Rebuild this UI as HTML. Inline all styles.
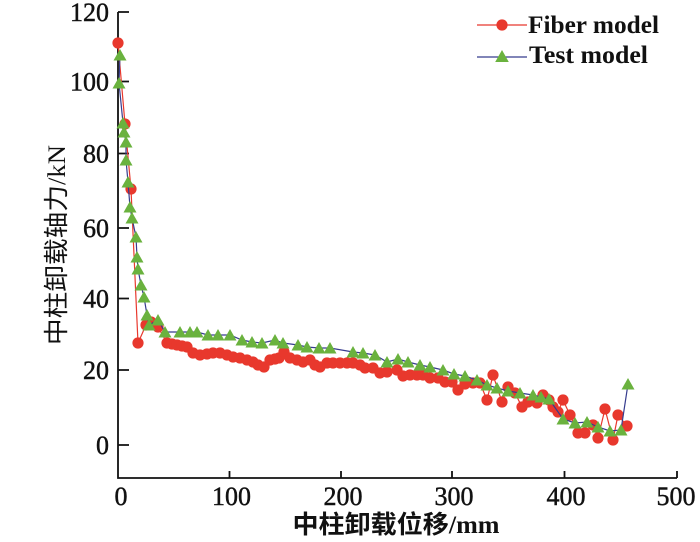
<!DOCTYPE html>
<html><head><meta charset="utf-8"><style>
html,body{margin:0;padding:0;background:#fff;}
svg{display:block;}
</style></head><body>
<svg width="700" height="542" viewBox="0 0 700 542" xmlns="http://www.w3.org/2000/svg">
<rect width="700" height="542" fill="#fff"/>
<!-- axes -->
<g stroke="#111" stroke-width="1.8" fill="none">
<path d="M118,12 V478 H677"/>
<path d="M118,12 h11 M118,81.5 h11 M118,153.5 h11 M118,228 h11 M118,298.5 h11 M118,370 h11 M118,445 h11"/>
<path d="M229.5,478 v-7 M341,478 v-7 M452,478 v-7 M564.5,478 v-7 M677,478 v-7"/>
</g>
<g font-family="Liberation Serif, serif" font-size="26" fill="#111" stroke="#111" stroke-width="0.45" text-anchor="end">
<text x="109" y="21">120</text>
<text x="109" y="90.5">100</text>
<text x="109" y="162.5">80</text>
<text x="109" y="237">60</text>
<text x="109" y="307.5">40</text>
<text x="109" y="379">20</text>
<text x="109" y="454">0</text>
</g>
<g font-family="Liberation Serif, serif" font-size="26" fill="#111" stroke="#111" stroke-width="0.45" text-anchor="middle">
<text x="121" y="505">0</text>
<text x="231.5" y="505">100</text>
<text x="343" y="505">200</text>
<text x="454" y="505">300</text>
<text x="566" y="505">400</text>
<text x="676" y="505">500</text>
</g>
<text x="396" y="533" text-anchor="middle" font-family="Liberation Serif, 'Noto Sans CJK SC', sans-serif" font-weight="bold" font-size="25" fill="#111" textLength="207" lengthAdjust="spacingAndGlyphs">中柱卸载位移/mm</text>
<text x="65" y="245" transform="rotate(-90 65 245)" text-anchor="middle" font-family="Liberation Serif, 'Noto Sans CJK SC', sans-serif" font-size="25" fill="#111" textLength="200" lengthAdjust="spacingAndGlyphs">中柱卸载轴力/kN</text>

<!-- Fiber model -->
<polyline fill="none" stroke="#e8382d" stroke-width="1.2" points="118,43 125,124 131,189 138,343 146,325 151,322 158,327 167,343 172,344 177,345 182,346 187,347 193,353 200,355 207,354 213,353 220,353 227,355 233,357 240,358 247,360 253,362 258,365 264,367 270,360 275,359 279,358 284,352 290,358 297,360 303,362 310,360 315,365 320,367 327,363 333,363 340,363 347,363 353,363 360,365 365,368 373,368 380,373 387,372 397,370 403,376 410,375 417,375 423,375 430,378 438,378 445,382 452,382 458,390 465,384 473,383 480,383 487,400 493,375 502,402 508,387 515,393 522,407 528,402 537,403 543,395 549,400 553,407 558,412 563,400 570,415 578,433 585,433 593,425 598,438 605,409 613,440 618,415 627,426"/>
<g fill="#e8382d">
<circle cx="118" cy="43" r="5.6"/><circle cx="125" cy="124" r="5.6"/><circle cx="131" cy="189" r="5.6"/><circle cx="138" cy="343" r="5.6"/><circle cx="146" cy="325" r="5.6"/><circle cx="151" cy="322" r="5.6"/><circle cx="158" cy="327" r="5.6"/><circle cx="167" cy="343" r="5.6"/><circle cx="172" cy="344" r="5.6"/><circle cx="177" cy="345" r="5.6"/><circle cx="182" cy="346" r="5.6"/><circle cx="187" cy="347" r="5.6"/><circle cx="193" cy="353" r="5.6"/><circle cx="200" cy="355" r="5.6"/><circle cx="207" cy="354" r="5.6"/><circle cx="213" cy="353" r="5.6"/><circle cx="220" cy="353" r="5.6"/><circle cx="227" cy="355" r="5.6"/><circle cx="233" cy="357" r="5.6"/><circle cx="240" cy="358" r="5.6"/><circle cx="247" cy="360" r="5.6"/><circle cx="253" cy="362" r="5.6"/><circle cx="258" cy="365" r="5.6"/><circle cx="264" cy="367" r="5.6"/><circle cx="270" cy="360" r="5.6"/><circle cx="275" cy="359" r="5.6"/><circle cx="279" cy="358" r="5.6"/><circle cx="284" cy="352" r="5.6"/><circle cx="290" cy="358" r="5.6"/><circle cx="297" cy="360" r="5.6"/><circle cx="303" cy="362" r="5.6"/><circle cx="310" cy="360" r="5.6"/><circle cx="315" cy="365" r="5.6"/><circle cx="320" cy="367" r="5.6"/><circle cx="327" cy="363" r="5.6"/><circle cx="333" cy="363" r="5.6"/><circle cx="340" cy="363" r="5.6"/><circle cx="347" cy="363" r="5.6"/><circle cx="353" cy="363" r="5.6"/><circle cx="360" cy="365" r="5.6"/><circle cx="365" cy="368" r="5.6"/><circle cx="373" cy="368" r="5.6"/><circle cx="380" cy="373" r="5.6"/><circle cx="387" cy="372" r="5.6"/><circle cx="397" cy="370" r="5.6"/><circle cx="403" cy="376" r="5.6"/><circle cx="410" cy="375" r="5.6"/><circle cx="417" cy="375" r="5.6"/><circle cx="423" cy="375" r="5.6"/><circle cx="430" cy="378" r="5.6"/><circle cx="438" cy="378" r="5.6"/><circle cx="445" cy="382" r="5.6"/><circle cx="452" cy="382" r="5.6"/><circle cx="458" cy="390" r="5.6"/><circle cx="465" cy="384" r="5.6"/><circle cx="473" cy="383" r="5.6"/><circle cx="480" cy="383" r="5.6"/><circle cx="487" cy="400" r="5.6"/><circle cx="493" cy="375" r="5.6"/><circle cx="502" cy="402" r="5.6"/><circle cx="508" cy="387" r="5.6"/><circle cx="515" cy="393" r="5.6"/><circle cx="522" cy="407" r="5.6"/><circle cx="528" cy="402" r="5.6"/><circle cx="537" cy="403" r="5.6"/><circle cx="543" cy="395" r="5.6"/><circle cx="549" cy="400" r="5.6"/><circle cx="553" cy="407" r="5.6"/><circle cx="558" cy="412" r="5.6"/><circle cx="563" cy="400" r="5.6"/><circle cx="570" cy="415" r="5.6"/><circle cx="578" cy="433" r="5.6"/><circle cx="585" cy="433" r="5.6"/><circle cx="593" cy="425" r="5.6"/><circle cx="598" cy="438" r="5.6"/><circle cx="605" cy="409" r="5.6"/><circle cx="613" cy="440" r="5.6"/><circle cx="618" cy="415" r="5.6"/><circle cx="627" cy="426" r="5.6"/>
</g>

<!-- Test model -->
<polyline fill="none" stroke="#363c8e" stroke-width="1.2" points="120,55 119,83 123,123 124,132 126,142 126,160 128,182 130,207 132,218 136,237 137,257 138,269 141,285 144,297 147,315 149,325 158,320 165,332 180,332 190,332 197,332 208,335 218,335 230,335 242,340 252,342 262,343 275,340 283,343 298,345 307,347 319,348 330,348 353,352 363,353 375,355 387,362 398,359 408,362 420,365 430,367 443,370 454,374 465,376 477,380 487,385 497,388 508,391 520,393 533,395 541,397 549,399 563,419 575,423 587,422 598,427 610,431 621,430 628,384"/>
<g fill="#6ab23e">
<path d="M120,49l-6.5,11.5h13z"/><path d="M119,77l-6.5,11.5h13z"/><path d="M123,117l-6.5,11.5h13z"/><path d="M124,126l-6.5,11.5h13z"/><path d="M126,136l-6.5,11.5h13z"/><path d="M126,154l-6.5,11.5h13z"/><path d="M128,176l-6.5,11.5h13z"/><path d="M130,201l-6.5,11.5h13z"/><path d="M132,212l-6.5,11.5h13z"/><path d="M136,231l-6.5,11.5h13z"/><path d="M137,251l-6.5,11.5h13z"/><path d="M138,263l-6.5,11.5h13z"/><path d="M141,279l-6.5,11.5h13z"/><path d="M144,291l-6.5,11.5h13z"/><path d="M147,309l-6.5,11.5h13z"/><path d="M149,319l-6.5,11.5h13z"/><path d="M158,314l-6.5,11.5h13z"/><path d="M165,326l-6.5,11.5h13z"/><path d="M180,326l-6.5,11.5h13z"/><path d="M190,326l-6.5,11.5h13z"/><path d="M197,326l-6.5,11.5h13z"/><path d="M208,329l-6.5,11.5h13z"/><path d="M218,329l-6.5,11.5h13z"/><path d="M230,329l-6.5,11.5h13z"/><path d="M242,334l-6.5,11.5h13z"/><path d="M252,336l-6.5,11.5h13z"/><path d="M262,337l-6.5,11.5h13z"/><path d="M275,334l-6.5,11.5h13z"/><path d="M283,337l-6.5,11.5h13z"/><path d="M298,339l-6.5,11.5h13z"/><path d="M307,341l-6.5,11.5h13z"/><path d="M319,342l-6.5,11.5h13z"/><path d="M330,342l-6.5,11.5h13z"/><path d="M353,346l-6.5,11.5h13z"/><path d="M363,347l-6.5,11.5h13z"/><path d="M375,349l-6.5,11.5h13z"/><path d="M387,356l-6.5,11.5h13z"/><path d="M398,353l-6.5,11.5h13z"/><path d="M408,356l-6.5,11.5h13z"/><path d="M420,359l-6.5,11.5h13z"/><path d="M430,361l-6.5,11.5h13z"/><path d="M443,364l-6.5,11.5h13z"/><path d="M454,368l-6.5,11.5h13z"/><path d="M465,370l-6.5,11.5h13z"/><path d="M477,374l-6.5,11.5h13z"/><path d="M487,379l-6.5,11.5h13z"/><path d="M497,382l-6.5,11.5h13z"/><path d="M508,385l-6.5,11.5h13z"/><path d="M520,387l-6.5,11.5h13z"/><path d="M533,389l-6.5,11.5h13z"/><path d="M541,391l-6.5,11.5h13z"/><path d="M549,393l-6.5,11.5h13z"/><path d="M563,413l-6.5,11.5h13z"/><path d="M575,417l-6.5,11.5h13z"/><path d="M587,416l-6.5,11.5h13z"/><path d="M598,421l-6.5,11.5h13z"/><path d="M610,425l-6.5,11.5h13z"/><path d="M621,424l-6.5,11.5h13z"/><path d="M628,378l-6.5,11.5h13z"/>
</g>

<!-- legend -->
<line x1="477" y1="25" x2="527" y2="25" stroke="#e8382d" stroke-width="1.2"/>
<circle cx="502" cy="25" r="5.6" fill="#e8382d"/>
<line x1="477" y1="57" x2="527" y2="57" stroke="#363c8e" stroke-width="1.2"/>
<path d="M502,50l-6.8,12h13.6z" fill="#6ab23e"/>
<g font-family="Liberation Serif, serif" font-weight="bold" font-size="25" fill="#111">
<text x="528" y="33" textLength="131" lengthAdjust="spacingAndGlyphs">Fiber model</text>
<text x="529" y="63" textLength="119" lengthAdjust="spacingAndGlyphs">Test model</text>
</g>
</svg>
</body></html>
